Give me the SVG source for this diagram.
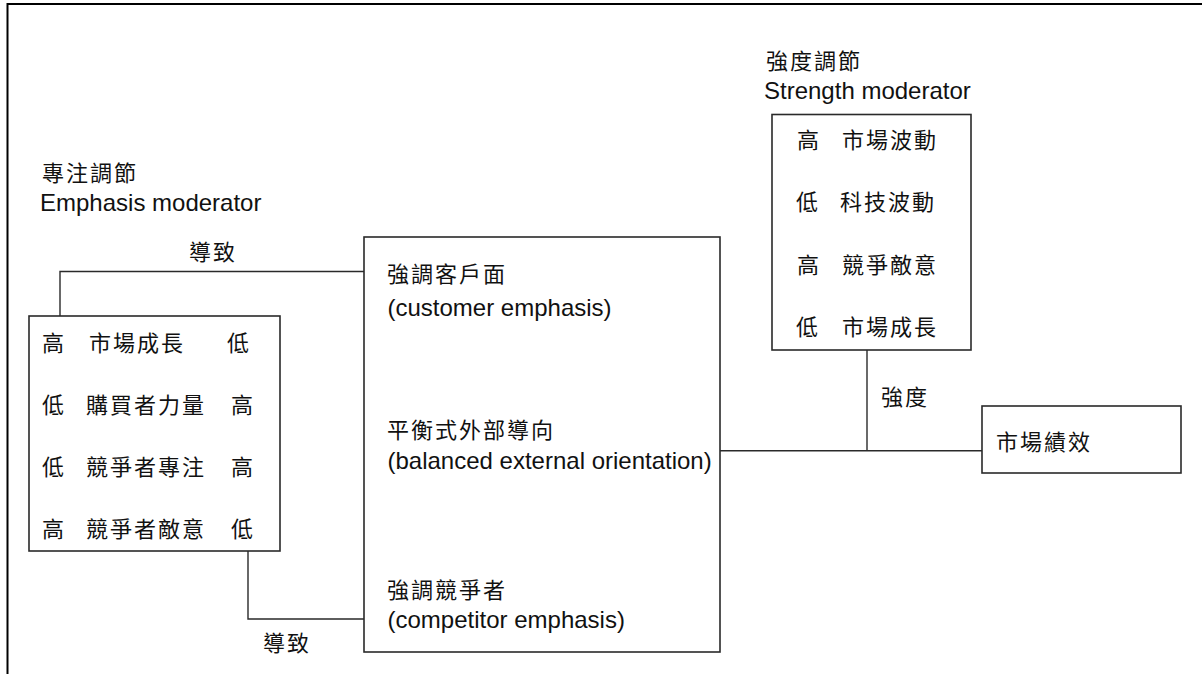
<svg xmlns="http://www.w3.org/2000/svg" width="1202" height="674" viewBox="0 0 1202 674">
  <style>
    .cjk { font-family: "Noto Sans CJK TC", "Noto Sans CJK SC", sans-serif; font-size: 22px; letter-spacing: 2px; fill: #111; }
    .lat { font-family: "Liberation Sans", Arial, sans-serif; font-size: 24px; fill: #111; }
    .box { fill: #fff; stroke: #2a2a2a; stroke-width: 1.6; }
    .wire { fill: none; stroke: #2a2a2a; stroke-width: 1.4; }
    .frame { fill: none; stroke: #000; stroke-width: 2; }
  </style>

  <!-- page frame: top and left edges only -->
  <path class="frame" d="M7.5,674 V4 H1202"/>

  <!-- connectors -->
  <g id="connectors">
    <path class="wire" d="M60,316 V271.5 H383"/>
    <path class="wire" d="M248,551 V619 H375"/>
    <path class="wire" d="M720,450.7 H982"/>
    <path class="wire" d="M867,350 V450.7"/>
    <text class="cjk" x="189" y="260">導致</text>
    <text class="cjk" x="263" y="651">導致</text>
    <text class="cjk" x="881" y="405">強度</text>
  </g>

  <!-- emphasis moderator -->
  <g id="emphasis-moderator">
    <text class="cjk" x="42" y="181">專注調節</text>
    <text class="lat" x="40" y="211">Emphasis moderator</text>
    <rect class="box" x="29" y="316" width="251" height="235"/>
    <text class="cjk" x="42" y="351">高</text>
    <text class="cjk" x="89" y="351">市場成長</text>
    <text class="cjk" x="227" y="351">低</text>
    <text class="cjk" x="42" y="413">低</text>
    <text class="cjk" x="86" y="413">購買者力量</text>
    <text class="cjk" x="231" y="413">高</text>
    <text class="cjk" x="42" y="475">低</text>
    <text class="cjk" x="86" y="475">競爭者專注</text>
    <text class="cjk" x="231" y="475">高</text>
    <text class="cjk" x="42" y="537">高</text>
    <text class="cjk" x="86" y="537">競爭者敵意</text>
    <text class="cjk" x="231" y="537">低</text>
  </g>

  <!-- balanced external orientation -->
  <g id="balanced-orientation">
    <rect class="box" x="364" y="237" width="356" height="415"/>
    <text class="cjk" x="387" y="282">強調客戶面</text>
    <text class="lat" x="387.5" y="316">(customer emphasis)</text>
    <text class="cjk" x="387" y="438">平衡式外部導向</text>
    <text class="lat" x="387.5" y="469">(balanced external orientation)</text>
    <text class="cjk" x="387" y="598">強調競爭者</text>
    <text class="lat" x="387.5" y="628">(competitor emphasis)</text>
  </g>

  <!-- strength moderator -->
  <g id="strength-moderator">
    <text class="cjk" x="766" y="69">強度調節</text>
    <text class="lat" x="764" y="99">Strength moderator</text>
    <rect class="box" x="772" y="114.5" width="199" height="235.5"/>
    <text class="cjk" x="797" y="148">高</text>
    <text class="cjk" x="842" y="148">市場波動</text>
    <text class="cjk" x="796" y="210">低</text>
    <text class="cjk" x="840" y="210">科技波動</text>
    <text class="cjk" x="797" y="273">高</text>
    <text class="cjk" x="842" y="273">競爭敵意</text>
    <text class="cjk" x="796" y="335">低</text>
    <text class="cjk" x="842" y="335">市場成長</text>
  </g>

  <!-- market performance -->
  <g id="market-performance">
    <rect class="box" x="982" y="406" width="199" height="67"/>
    <text class="cjk" x="996" y="450">市場績效</text>
  </g>
</svg>
